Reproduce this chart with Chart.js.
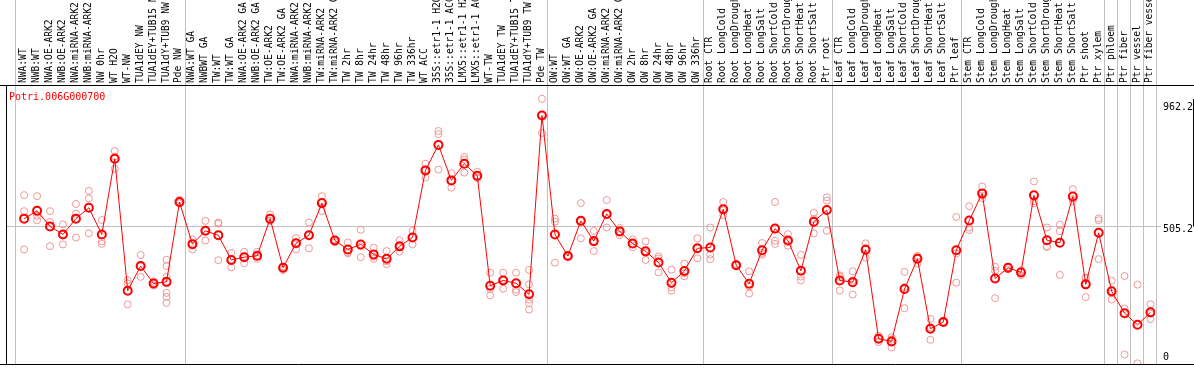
<!DOCTYPE html>
<html lang="en">
<head>
<meta charset="UTF-8">
<title>Potri.006G000700</title>
<script src="https://cdn.jsdelivr.net/npm/chart.js"></script>
<style>
  body { margin: 0; background: #fff; overflow: hidden; }
  #exprChart { display: block; }
</style>
</head>
<body>
<canvas id="exprChart" width="1194" height="370"></canvas>
<script>
const geneName = 'Potri.006G000700';

const samples = [
  'NWA:WT', 'NWB:WT', 'NWA:OE-ARK2', 'NWB:OE-ARK2', 'NWA:miRNA-ARK2', 'NWB:miRNA-ARK2',
  'NW 0hr', 'WT H2O', 'WT-NW', 'TUA1dEY NW', 'TUA1dEY+TUB15 NW', 'TUA1dY+TUB9 NW', 'Pde NW',
  'NWA:WT GA', 'NWBWT GA', 'TW:WT', 'TW:WT GA', 'NWA:OE-ARK2 GA', 'NWB:OE-ARK2 GA',
  'TW:OE-ARK2', 'TW:OE-ARK2 GA', 'NWA:miRNA-ARK2 GA', 'NWB:miRNA-ARK2 GA', 'TW:miRNA-ARK2',
  'TW:miRNA-ARK2 GA', 'TW 2hr', 'TW 8hr', 'TW 24hr', 'TW 48hr', 'TW 96hr', 'TW 336hr', 'WT ACC',
  '35S::etr1-1 H2O', '35S::etr1-1 ACC', 'LMX5::etr1-1 H2O', 'LMX5::etr1-1 ACC', 'WT-TW',
  'TUA1dEY TW', 'TUA1dEY+TUB15 TW', 'TUA1dY+TUB9 TW', 'Pde TW',
  'OW:WT', 'OW:WT GA', 'OW:OE-ARK2', 'OW:OE-ARK2 GA', 'OW:miRNA-ARK2', 'OW:miRNA-ARK2 GA',
  'OW 2hr', 'OW 8hr', 'OW 24hr', 'OW 48hr', 'OW 96hr', 'OW 336hr',
  'Root CTR', 'Root LongCold', 'Root LongDrought', 'Root LongHeat', 'Root LongSalt',
  'Root ShortCold', 'Root ShortDrought', 'Root ShortHeat', 'Root ShortSalt', 'Ptr root',
  'Leaf CTR', 'Leaf LongCold', 'Leaf LongDrought', 'Leaf LongHeat', 'Leaf LongSalt',
  'Leaf ShortCold', 'Leaf ShortDrought', 'Leaf ShortHeat', 'Leaf ShortSalt', 'Ptr leaf',
  'Stem CTR', 'Stem LongCold', 'Stem LongDrought', 'Stem LongHeat', 'Stem LongSalt',
  'Stem ShortCold', 'Stem ShortDrought', 'Stem ShortHeat', 'Stem ShortSalt', 'Ptr shoot',
  'Ptr xylem', 'Ptr phloem', 'Ptr fiber', 'Ptr vessel', 'Ptr fiber vessel'
];

// mean expression per sample
const means = [
  530, 558, 502, 473, 530, 569, 473, 746, 270, 359,
  296, 302, 590, 438, 486, 470, 381, 391, 396, 530,
  353, 441, 470, 586, 451, 419, 437, 401, 385, 430,
  462, 704, 796, 668, 728, 685, 288, 307, 297, 257,
  902, 473, 395, 522, 449, 547, 484, 440, 412, 372,
  299, 341, 423, 426, 564, 362, 295, 416, 494, 451,
  342, 519, 561, 307, 301, 418, 97, 87, 276, 385,
  133, 157, 416, 523, 621, 314, 353, 336, 614, 452,
  443, 610, 293, 479, 268, 189, 147, 192
];

// individual replicates per sample
const replicates = [
  [615, 557, 419], [611, 540, 524], [557, 518, 431], [509, 437, 473], [583, 548, 462],
  [630, 603, 477], [525, 448, 439], [774, 710, 754], [308, 296, 221], [399, 320, 358],
  [303, 289, 297], [382, 359, 320, 262, 248, 226], [598, 588, 585], [456, 419, 439],
  [522, 451, 486], [516, 512, 380], [406, 354, 383], [410, 369, 394], [410, 385, 393],
  [545, 523, 522], [345, 356, 357], [460, 419, 444], [516, 423, 471], [611, 557, 590],
  [455, 445, 453], [444, 405, 408], [490, 391, 430], [425, 385, 393], [413, 366, 376],
  [452, 411, 427], [486, 437, 463], [728, 678, 706], [846, 835, 707], [694, 642, 668],
  [752, 743, 696], [699, 680, 676], [335, 253, 276], [335, 277, 309], [335, 274, 265],
  [345, 293, 238, 225, 202], [962.2, 839, 905], [530, 519, 371], [398, 394, 394],
  [586, 459, 521], [486, 413, 446], [597, 498, 546], [496, 471, 485], [455, 427, 438],
  [448, 381, 407], [394, 336, 386], [346, 282, 270], [368, 322, 333], [459, 387, 423],
  [498, 400, 384], [590, 542, 560], [366, 361, 361], [340, 260, 285], [442, 400, 406],
  [590, 450, 439], [474, 432, 447], [399, 321, 307], [551, 477, 529], [607, 595, 486],
  [325, 271, 320], [340, 256, 307], [441, 389, 424], [108, 85, 98], [102, 65, 94],
  [338, 207, 283], [396, 368, 391], [168, 93, 138], [159, 156, 156], [536, 404, 299],
  [575, 498, 489], [646, 604, 613], [356, 342, 243], [347, 356, 356], [343, 326, 339],
  [664, 593, 585], [498, 430, 428], [508, 485, 327], [636, 601, 593], [314, 247, 318],
  [531, 524, 384], [306, 238, 260], [323, 205, 40], [292, 8], [221, 168, 187]
];

// last sample index of each experiment block
const groupEnds = [12, 40, 52, 62, 72, 83, 84, 85, 86, 87];
const yTicks = [962.2, 505.2, 0];
const refLine = 505.2;

const FONT = '"DejaVu Sans Mono", "Liberation Mono", monospace';

const decorations = {
    id: 'decorations',
    beforeDatasetsDraw(chart) {
        const { ctx, chartArea: a, scales: { x, y } } = chart;
        ctx.save();
        ctx.lineWidth = 1;
        ctx.strokeStyle = '#c0c0c0';
        // block separators run through the label band too
        [-0.7, ...groupEnds.map(e => e + 0.4)].forEach(b => {
            const px = Math.round(x.getPixelForValue(b)) + 0.5;
            ctx.beginPath();
            ctx.moveTo(px, 0);
            ctx.lineTo(px, a.bottom);
            ctx.stroke();
        });
        const gy = Math.round(y.getPixelForValue(refLine)) + 0.5;
        ctx.beginPath();
        ctx.moveTo(a.left, gy);
        ctx.lineTo(a.right + 6, gy);
        ctx.stroke();

        ctx.strokeStyle = '#000';
        ctx.beginPath();
        ctx.moveTo(0, a.top + 0.5);
        ctx.lineTo(chart.width, a.top + 0.5);
        ctx.moveTo(0, a.bottom + 0.5);
        ctx.lineTo(chart.width, a.bottom + 0.5);
        ctx.moveTo(a.left + 0.5, a.top);
        ctx.lineTo(a.left + 0.5, a.bottom);
        // range marker at the right edge, max down to the reference line
        ctx.moveTo(chart.width - 0.5, Math.round(y.getPixelForValue(yTicks[0])));
        ctx.lineTo(chart.width - 0.5, gy);
        ctx.stroke();
        ctx.restore();
    },
    afterDraw(chart) {
        const { ctx, chartArea: a, scales: { x, y } } = chart;
        ctx.save();
        // sample names, rotated
        ctx.fillStyle = '#000';
        ctx.font = '9.6px ' + FONT;
        ctx.textAlign = 'left';
        ctx.textBaseline = 'middle';
        samples.forEach((s, i) => {
            ctx.save();
            ctx.translate(x.getPixelForValue(i) - 0.5, a.top - 2);
            ctx.rotate(-Math.PI / 2);
            ctx.fillText(s, 0, 0);
            ctx.restore();
        });

        // gene name
        ctx.fillStyle = '#ff0000';
        ctx.font = '10px ' + FONT;
        ctx.textBaseline = 'alphabetic';
        ctx.fillText(geneName, 9, a.top + 15);

        // value labels on the right
        ctx.fillStyle = '#000';
        ctx.textBaseline = 'middle';
        const shift = [9, 4, -8];
        yTicks.forEach((t, k) => {
            ctx.fillText(String(t), a.right + 8, y.getPixelForValue(t) + shift[k]);
        });
        ctx.restore();
    }
};

const meanPoints = means.map((v, i) => ({ x: i, y: v }));
const repPoints = [];
replicates.forEach((reps, i) => reps.forEach(v => repPoints.push({ x: i, y: v })));

new Chart(document.getElementById('exprChart'), {
    type: 'scatter',
    data: {
        datasets: [{
            type: 'line',
            label: 'mean',
            data: meanPoints,
            borderColor: '#ff0000',
            borderWidth: 1,
            pointRadius: 4,
            pointBorderWidth: 2,
            pointBorderColor: '#ff0000',
            pointBackgroundColor: 'rgba(255,255,255,0)',
            tension: 0,
            order: 0
        }, {
            label: 'replicates',
            data: repPoints,
            pointRadius: 3.5,
            borderWidth: 1,
            borderColor: 'rgb(240,150,150)',
            backgroundColor: 'rgba(255,255,255,0)',
            order: 1
        }]
    },
    options: {
        responsive: false,
        animation: false,
        layout: { padding: { left: 1, right: 39, top: 85, bottom: 1 } },
        scales: {
            x: { type: 'linear', display: false, min: -1.4, max: 87.35 },
            y: { display: false, min: 5.7, max: 1012 }
        },
        plugins: {
            legend: { display: false },
            tooltip: { enabled: false }
        }
    },
    plugins: [decorations]
});
</script>
</body>
</html>
